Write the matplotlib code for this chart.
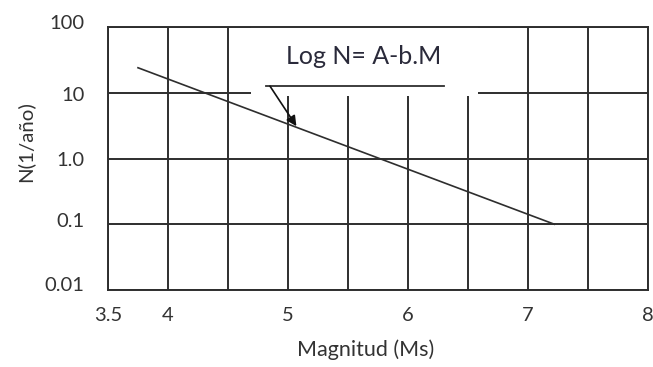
import matplotlib
matplotlib.use("Agg")
import matplotlib.pyplot as plt
import matplotlib.patches as mpatches
from matplotlib.ticker import FixedLocator, NullLocator, FixedFormatter
from matplotlib.transforms import ScaledTranslation

plt.rcParams['font.family'] = ['Lato', 'DejaVu Sans']

# Data
magnitude = [3.75, 7.22]
rate = [24.0, 0.1]

x_major = [3.5, 4, 5, 6, 7, 8]
x_major_labels = ["3.5", "4", "5", "6", "7", "8"]
x_minor = [4.5, 5.5, 6.5, 7.5]
y_major = [0.01, 0.1, 1.0, 10, 100]
y_major_labels = ["0.01", "0.1", "1.0", "10", "100"]

equation = "Log N= A-b.M"

# annotation layout
text_pos = (5.63, 27.0)
underline_x = (4.82, 6.30)
underline_y = 12.6
arrow_start = (4.85, 12.6)
arrow_tip = (5.07, 3.1)
cover_x = (4.69, 6.58)
cover_y = (8.9, 100)

# small vertical nudges (px) of the y tick labels, as hand placed in the source
y_label_nudge = [6, 4, 0, -1, 5]

ink = "#2e2e2e"
txt = "#333333"

fig = plt.figure(figsize=(6.53, 3.67), dpi=100)
ax = fig.add_axes([108/653, 77/367, 540/653, 263/367])
ax.set_xlim(3.5, 8)
ax.set_yscale('log')
ax.set_ylim(0.01, 100)

ax.xaxis.set_major_locator(FixedLocator(x_major))
ax.xaxis.set_major_formatter(FixedFormatter(x_major_labels))
ax.xaxis.set_minor_locator(FixedLocator(x_minor))
ax.yaxis.set_major_locator(FixedLocator(y_major))
ax.yaxis.set_major_formatter(FixedFormatter(y_major_labels))
ax.yaxis.set_minor_locator(NullLocator())

ax.grid(True, which='both', color=ink, linewidth=1.4)
ax.tick_params(axis='both', which='both', length=0)
ax.tick_params(axis='x', pad=12, labelsize=14.5, labelcolor=txt)
ax.tick_params(axis='y', pad=17, labelsize=14.5, labelcolor=txt)

for tick, dy in zip(ax.yaxis.get_major_ticks(), y_label_nudge):
    lab = tick.label1
    lab.set_transform(lab.get_transform() + ScaledTranslation(0, dy/100, fig.dpi_scale_trans))

for s in ax.spines.values():
    s.set_color(ink)
    s.set_linewidth(1.4)
    s.set_zorder(3)

# white box behind the equation (interrupts grid)
ax.add_patch(mpatches.Rectangle((cover_x[0], cover_y[0]), cover_x[1]-cover_x[0],
                                cover_y[1]-cover_y[0], facecolor='white',
                                edgecolor='none', zorder=1.8))

ax.plot(magnitude, rate, color=ink, linewidth=1.2, zorder=2.2)

ax.text(text_pos[0], text_pos[1], equation, ha='center', va='baseline',
        fontsize=18, color='#2a2a3a', zorder=4)
ax.plot(underline_x, [underline_y, underline_y], color=ink, linewidth=1.3, zorder=4)
ax.annotate('', xy=arrow_tip, xytext=arrow_start,
            arrowprops=dict(arrowstyle='-|>', color='#111111', lw=1.2,
                            mutation_scale=15, shrinkA=0, shrinkB=0), zorder=4)

ax.set_xlabel("Magnitud (Ms)", fontsize=15.5, color=txt)
ax.xaxis.set_label_coords((366-108)/540, (290-350)/263)
ax.xaxis.label.set_va('center')
ax.set_ylabel("N(1/año)", fontsize=14.7, color=txt)
ax.yaxis.set_label_coords((25-108)/540, (290-142)/263)
ax.yaxis.label.set_va('center')

fig.savefig("out.png", dpi=100)
